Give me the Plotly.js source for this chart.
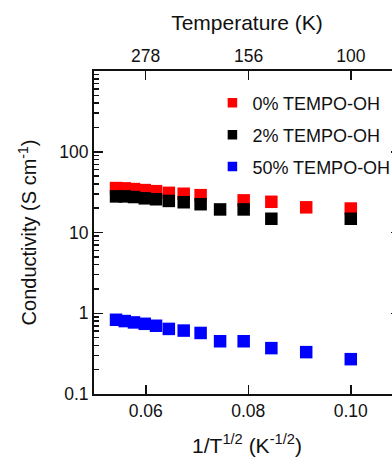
<!DOCTYPE html>
<html>
<head>
<meta charset="utf-8">
<script src="https://cdn.plot.ly/plotly-3.0.1.min.js"></script>
<style>
  html, body { margin: 0; padding: 0; overflow: hidden; background: #fff; }
  #chart { width: 430px; height: 457px; }
</style>
</head>
<body>
<div id="chart"></div>
<script>
// ---- data ----
const invSqrtT = [0.0542, 0.0559, 0.0577, 0.0598, 0.0620, 0.0645, 0.0674, 0.0707, 0.0745, 0.0791, 0.0845, 0.0913, 0.1000];
const cond0  = [35.5, 35.2, 34.5, 33.5, 32.5, 31.0, 30.2, 29.0, null, 25.0, 24.0, 20.5, 19.8];
const cond2  = [28.0, 28.0, 27.5, 26.5, 25.8, 24.6, 23.7, 22.4, 19.3, 19.3, 14.8, null, 14.8];
const cond50 = [0.83, 0.80, 0.77, 0.74, 0.70, 0.64, 0.61, 0.57, 0.45, 0.45, 0.37, 0.33, 0.27];
const seriesNames = ['0% TEMPO-OH', '2% TEMPO-OH', '50% TEMPO-OH'];
const seriesColors = ['#ff0000', '#000000', '#0000ff'];

const bottomTickVals = [0.06, 0.08, 0.10];
const bottomTickText = ['0.06', '0.08', '0.10'];
const topTemps = [278, 156, 100];
const yTickVals = [0.1, 1, 10, 100];
const yTickText = ['0.1', '1', '10', '100'];

// ---- styling helpers ----
const FONT = 'Liberation Sans, Arial, sans-serif';
const TXT = '#111111';
const xRange = [0.0499, 0.1096];
const yMinor = [];
for (let e = -1; e <= 2; e++) for (let m = 2; m <= 9; m++) yMinor.push(m * Math.pow(10, e));

const ys = [cond0, cond2, cond50];
const traces = [];
ys.forEach((y, i) => {
  traces.push({
    x: invSqrtT, y: y, type: 'scatter', mode: 'markers',
    marker: { symbol: 'square', size: 12.5, color: seriesColors[i] },
    showlegend: false, xaxis: 'x', yaxis: 'y', hoverinfo: 'skip'
  });
});
// legend entries (smaller symbols, as in the reference)
ys.forEach((y, i) => {
  traces.push({
    x: [null], y: [null], type: 'scatter', mode: 'markers',
    name: seriesNames[i], legendgroup: 'g' + i,
    marker: { symbol: 'square', size: 9.5, color: seriesColors[i] },
    showlegend: true, xaxis: 'x2', yaxis: 'y'
  });
});

const layout = {
  width: 430, height: 457,
  margin: { l: 94, r: 30, t: 71, b: 63 },
  paper_bgcolor: '#ffffff', plot_bgcolor: '#ffffff',
  font: { family: FONT, color: TXT, size: 17.5 },
  showlegend: true,
  legend: {
    x: 0.387, y: 0.958, xanchor: 'left', yanchor: 'top',
    bgcolor: 'rgba(0,0,0,0)', borderwidth: 0,
    font: { family: FONT, size: 18, color: TXT },
    tracegroupgap: 5.5
  },
  xaxis: {
    range: xRange, showgrid: false, zeroline: false,
    showline: true, linewidth: 2, linecolor: '#111',
    ticks: 'inside', ticklen: 9, tickwidth: 1.5, tickcolor: '#111',
    tickmode: 'array', tickvals: bottomTickVals, ticktext: bottomTickText,
    tickfont: { family: FONT, size: 17.5, color: TXT },
    title: { text: '1/T<sup>1/2</sup> (K<sup>-1/2</sup>)', font: { family: FONT, size: 21, color: TXT }, standoff: 21 }
  },
  xaxis2: {
    overlaying: 'x', side: 'top', anchor: 'y',
    range: xRange, showgrid: false, zeroline: false,
    showline: true, linewidth: 2, linecolor: '#111',
    ticks: 'inside', ticklen: 9, tickwidth: 1.5, tickcolor: '#111',
    tickmode: 'array', tickvals: topTemps.map(t => 1 / Math.sqrt(t)), ticktext: topTemps.map(String),
    tickfont: { family: FONT, size: 17.5, color: TXT },
    title: { text: 'Temperature (K)', font: { family: FONT, size: 21, color: TXT }, standoff: 10 }
  },
  yaxis: {
    type: 'log', range: [-1, 3], showgrid: false, zeroline: false,
    showline: true, linewidth: 2, linecolor: '#111', mirror: 'ticks',
    ticks: 'inside', ticklen: 9, tickwidth: 1.5, tickcolor: '#111',
    tickmode: 'array', tickvals: yTickVals, ticktext: yTickText,
    tickfont: { family: FONT, size: 17.5, color: TXT },
    minor: { tickmode: 'array', tickvals: yMinor, ticks: 'inside', ticklen: 5, tickwidth: 1.5, tickcolor: '#111' },
    title: { text: 'Conductivity (S cm<sup>-1</sup>)', font: { family: FONT, size: 20, color: TXT }, standoff: 17 }
  }
};

Plotly.newPlot('chart', traces, layout, { staticPlot: true, displayModeBar: false });
</script>
</body>
</html>
